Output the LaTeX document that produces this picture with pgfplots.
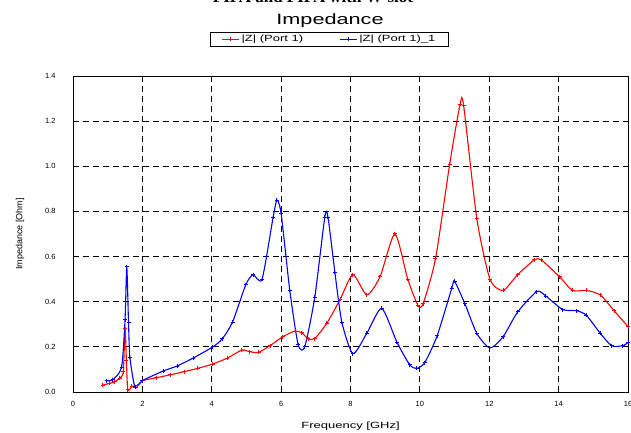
\documentclass[border=0pt]{standalone}
\usepackage{fontspec}
\setmainfont{Liberation Sans}
\newfontfamily\wide[FakeStretch=1.45]{Liberation Sans}
\newfontfamily\serifbold{Liberation Serif}
\usepackage{pgfplots}
\pgfplotsset{compat=1.18}

\pgfplotstableread{
x y
0.86 0.031
1.05 0.038
1.20 0.045
1.35 0.062
1.45 0.09
1.50 0.28
1.54 0.14
1.58 0.01
1.70 0.025
1.85 0.028
2.00 0.05
2.40 0.063
2.80 0.076
3.20 0.090
3.60 0.105
4.03 0.124
4.45 0.150
4.87 0.186
5.10 0.178
5.35 0.176
5.68 0.205
6.05 0.245
6.40 0.270
6.60 0.262
6.78 0.235
6.97 0.237
7.32 0.305
7.70 0.41
8.07 0.52
8.47 0.43
8.85 0.51
9.28 0.70
9.65 0.50
9.94 0.385
10.09 0.39
10.45 0.59
10.86 1.01
11.16 1.275
11.26 1.27
11.64 0.77
12.02 0.50
12.40 0.45
12.82 0.52
13.30 0.585
13.50 0.585
14.03 0.51
14.40 0.45
14.80 0.45
15.20 0.43
15.60 0.36
16.00 0.29
}\redz

\pgfplotstableread{
x y
0.97 0.05
1.15 0.055
1.40 0.11
1.50 0.32
1.55 0.555
1.60 0.31
1.64 0.155
1.79 0.02
2.00 0.05
2.60 0.093
3.00 0.115
3.46 0.150
4.03 0.200
4.30 0.235
4.60 0.31
4.98 0.475
5.19 0.52
5.45 0.50
5.77 0.775
5.88 0.85
6.00 0.79
6.25 0.45
6.49 0.21
6.68 0.20
6.97 0.42
7.26 0.775
7.35 0.775
7.55 0.53
7.75 0.31
8.07 0.17
8.47 0.26
8.90 0.37
9.34 0.22
9.71 0.12
9.91 0.105
10.14 0.13
10.50 0.25
10.92 0.46
11.00 0.49
11.30 0.39
11.64 0.26
12.02 0.195
12.40 0.245
12.82 0.355
13.37 0.445
13.63 0.425
14.12 0.365
14.52 0.36
14.80 0.34
15.20 0.26
15.53 0.205
15.85 0.205
16.00 0.22
}\bluez

\begin{document}
\begin{tikzpicture}[x=1bp,y=1bp]
\useasboundingbox (-73,-41) rectangle (558,392);
\begin{axis}[
  at={(0,0)}, anchor=south west,
  scale only axis, width=555bp, height=316bp,
  xmin=0, xmax=16, ymin=0, ymax=1.4,
  xtick={0,2,...,16}, ytick={0,0.2,...,1.4},
  /pgf/number format/assume math mode=true,
  tick label style={font=\fontsize{7.5}{8}\selectfont},
  yticklabel style={xshift=-14bp, /pgf/number format/.cd,fixed,fixed zerofill,precision=1},
  xticklabel style={yshift=-6bp},
  xlabel={Frequency [GHz]}, ylabel={Impedance [Ohm]},
  xlabel style={font=\wide\fontsize{9}{10}\selectfont, yshift=-8bp},
  ylabel style={font=\fontsize{9}{10}\selectfont, yshift=14bp},
  major tick length=0pt,
  grid=major, grid style={black, dash pattern=on 6bp off 4bp, line width=0.9pt},
  axis line style={black, line width=0.9pt},
  legend columns=2,
  legend style={at={(0.462,1.1155)}, anchor=center,
    font=\wide\fontsize{9}{9}\selectfont, inner xsep=11bp, inner ysep=1bp,
    /tikz/every even column/.append style={column sep=34bp}},
]
\addplot[red, line width=1.1pt, smooth, tension=0.4, mark=+, mark size=2bp,
  mark options={solid, line width=1pt}] table {\redz};
\addlegendentry{|Z| (Port 1)}
\addplot[blue, line width=1.1pt, smooth, tension=0.4, mark=+, mark size=2bp,
  mark options={solid, line width=1pt}] table {\bluez};
\addlegendentry{|Z| (Port 1)\_1}
\end{axis}
\node[font=\wide\fontsize{15}{17}\selectfont] at (257,371) {Impedance};
\node[font=\serifbold\bfseries\fontsize{17}{19}\selectfont] at (240,395) {PIFA and PIFA with W-slot};
\end{tikzpicture}
\end{document}
